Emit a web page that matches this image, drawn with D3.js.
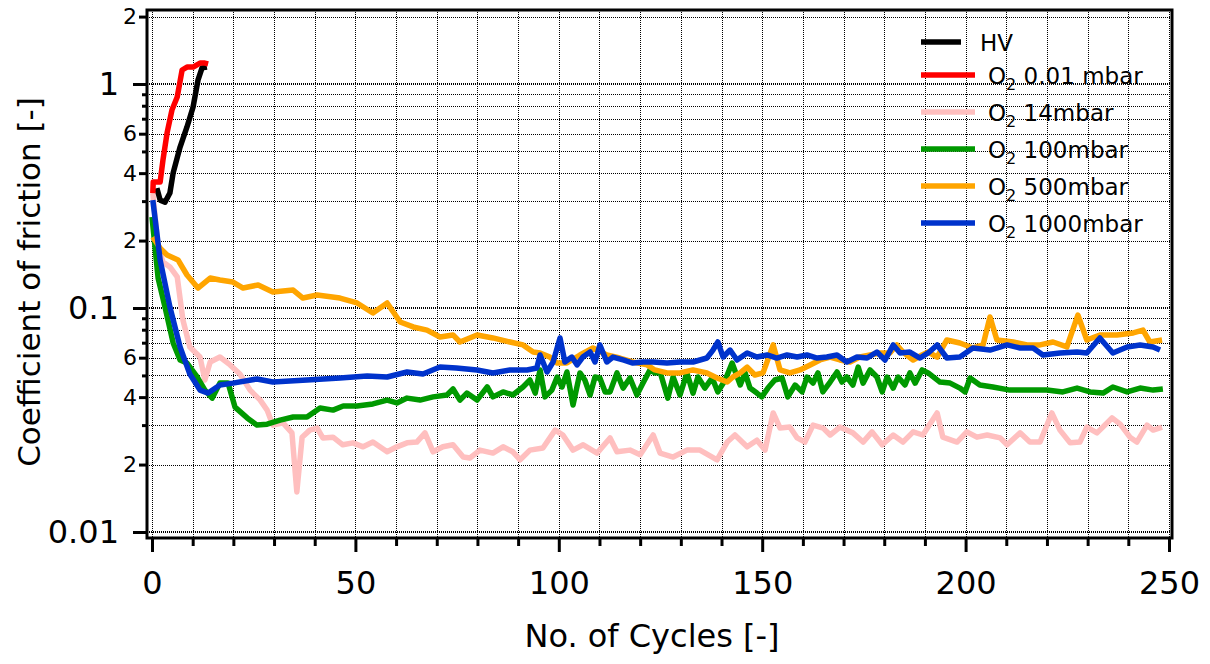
<!DOCTYPE html>
<html><head><meta charset="utf-8">
<script src="https://cdn.jsdelivr.net/npm/d3@7"></script>
<style>
body{margin:0;background:#fff;}
svg{display:block;font-family:"DejaVu Sans",sans-serif;}
</style>
</head><body>
<svg id="chart" width="1210" height="664"></svg>
<script>
// ---------------- data (cycle, coefficient of friction) ----------------
const hvData = [[1.2,0.343],[2.0,0.303],[3.2,0.297],[4.4,0.326],[5.2,0.401],[6.9,0.523],[8.6,0.643],[10.1,0.789],[11.3,1.04],[12.3,1.18],[13.5,1.19]];

const o2_001Data = [[0.2,0.326],[0.3,0.365],[2.0,0.365],[2.7,0.458],[3.7,0.604],[4.9,0.765],[6.2,0.875],[7.4,1.155],[8.6,1.19],[10.1,1.19],[11.8,1.24],[13.0,1.24],[13.8,1.23]];

const o2_14Data = [[0.2,0.326],[1.5,0.187],[2.7,0.1605],[4.4,0.1525],[6.2,0.1376],[7.6,0.0884],[9.3,0.067],[11.8,0.0604],[13.0,0.0477],[14.3,0.0574],[16.7,0.0604],[19.2,0.0557],[21.6,0.0507],[24.1,0.043],[26.6,0.0388],[28.3,0.035],[29.7,0.030],[32.2,0.0307],[34.4,0.0277],[35.6,0.0151],[36.9,0.0265],[38.8,0.0285],[40.6,0.0291],[42.0,0.0263],[44.5,0.0265],[46.9,0.0245],[49.4,0.025],[51.9,0.024],[54.3,0.0252],[57.8,0.0228],[60.2,0.024],[62.7,0.025],[65.1,0.0252],[67.1,0.0277],[69.1,0.0228],[71.5,0.024],[74.0,0.0245],[76.5,0.0216],[78.2,0.0214],[80.6,0.0232],[83.8,0.0225],[86.3,0.024],[88.7,0.0228],[90.5,0.021],[92.9,0.0232],[96.1,0.0237],[99.1,0.0285],[101.0,0.0271],[103.5,0.0232],[106.0,0.0245],[109.4,0.0225],[112.6,0.0263],[114.3,0.0228],[117.5,0.0232],[120.0,0.0221],[123.2,0.0271],[124.9,0.0225],[128.1,0.0216],[131.5,0.0232],[134.7,0.0232],[138.9,0.021],[141.4,0.0252],[143.3,0.0271],[146.3,0.024],[148.7,0.0257],[150.7,0.0232],[152.7,0.034],[154.4,0.0291],[156.8,0.0294],[158.6,0.0263],[160.5,0.0252],[162.5,0.030],[165.0,0.0291],[166.7,0.0271],[169.1,0.0294],[172.3,0.0277],[174.8,0.0252],[177.0,0.028],[179.5,0.0245],[182.2,0.0271],[184.6,0.0252],[187.1,0.028],[189.5,0.0271],[193.0,0.034],[194.4,0.0265],[197.9,0.0252],[200.3,0.028],[202.8,0.0265],[205.3,0.0271],[208.5,0.0263],[210.2,0.0245],[213.4,0.0277],[215.8,0.0252],[218.3,0.0252],[221.2,0.034],[223.2,0.0285],[225.7,0.025],[228.1,0.0252],[229.8,0.0294],[232.3,0.0277],[236.0,0.0323],[238.0,0.0303],[240.4,0.0265],[242.1,0.0252],[244.6,0.030],[246.1,0.0285],[248.3,0.0294]];

const o2_100Data = [[0,0.255],[1.5,0.1361],[3.2,0.101],[5.2,0.0698],[6.9,0.0586],[8.6,0.0568],[11.1,0.0492],[13.0,0.043],[14.8,0.0396],[16.7,0.0462],[18.7,0.0462],[20.4,0.0361],[23.4,0.0323],[25.8,0.030],[28.3,0.0303],[31.5,0.0316],[34.7,0.0326],[38.1,0.0326],[41.3,0.0358],[44.5,0.035],[47.0,0.0365],[50.4,0.0365],[54.3,0.0373],[57.8,0.0388],[60.2,0.0377],[62.7,0.0396],[65.9,0.0388],[69.1,0.0401],[72.5,0.0409],[74.0,0.0435],[75.7,0.0388],[77.4,0.0417],[79.9,0.0388],[82.4,0.0444],[83.8,0.0401],[86.3,0.0422],[88.7,0.0409],[91.2,0.0444],[92.9,0.0477],[94.2,0.0417],[95.4,0.0529],[96.6,0.0401],[98.3,0.043],[99.6,0.0492],[100.8,0.0444],[102.0,0.0518],[103.5,0.0369],[105.2,0.0513],[106.4,0.0477],[107.7,0.0409],[108.9,0.0492],[110.1,0.0487],[111.4,0.0422],[112.6,0.0422],[114.3,0.0513],[115.8,0.0439],[117.5,0.0487],[119.2,0.0409],[120.7,0.0462],[122.4,0.0529],[123.6,0.0513],[124.9,0.0518],[126.8,0.0396],[128.1,0.0492],[129.8,0.0409],[131.5,0.0513],[133.0,0.0417],[134.2,0.0492],[135.9,0.0439],[137.7,0.0487],[139.1,0.0422],[140.9,0.0477],[142.6,0.0568],[144.6,0.0453],[145.8,0.0513],[147.0,0.0439],[148.7,0.0417],[149.9,0.0401],[151.4,0.0439],[153.1,0.0477],[154.9,0.0487],[156.3,0.0401],[158.1,0.0453],[159.8,0.0422],[161.0,0.0492],[162.5,0.0462],[163.7,0.0513],[164.9,0.0422],[166.7,0.0467],[168.4,0.0518],[169.6,0.0467],[170.8,0.0492],[172.3,0.0453],[173.6,0.0545],[174.8,0.0462],[176.5,0.0529],[178.2,0.0492],[179.5,0.0422],[180.7,0.0492],[182.2,0.0439],[183.4,0.0492],[185.1,0.0453],[186.3,0.0513],[187.6,0.0462],[189.3,0.0529],[190.8,0.0513],[193.7,0.0467],[196.2,0.0462],[198.6,0.0439],[199.9,0.0422],[201.1,0.0487],[203.5,0.0453],[206.7,0.0444],[210.9,0.043],[215.1,0.043],[220.0,0.043],[223.9,0.0422],[227.4,0.0439],[230.6,0.0422],[233.8,0.0417],[236.2,0.0444],[239.7,0.0422],[242.9,0.0439],[246.1,0.043],[248.5,0.0435]];

const o2_500Data = [[0.2,0.2075],[2.0,0.185],[3.7,0.1724],[6.4,0.1638],[8.6,0.1404],[11.3,0.1228],[14.3,0.1361],[16.7,0.1334],[19.9,0.1306],[22.4,0.1228],[26.1,0.1267],[29.7,0.1179],[34.7,0.1203],[37.1,0.1108],[40.6,0.1143],[46.2,0.1108],[50.4,0.1053],[54.3,0.095],[57.8,0.1053],[61.0,0.0866],[64.2,0.0823],[67.6,0.0797],[70.8,0.0742],[74.0,0.0758],[75.7,0.0705],[79.9,0.0758],[83.8,0.0735],[88.0,0.0705],[91.2,0.0684],[93.7,0.0636],[95.4,0.063],[97.8,0.0604],[99.6,0.0568],[102.0,0.0568],[105.2,0.0617],[108.4,0.0663],[111.8,0.0617],[115.0,0.0598],[118.2,0.0574],[121.7,0.0557],[123.6,0.0529],[126.6,0.0513],[129.8,0.0513],[133.0,0.0529],[136.4,0.0513],[138.9,0.0487],[141.4,0.0467],[142.8,0.0492],[144.6,0.0513],[146.3,0.0545],[148.2,0.0502],[150.2,0.0513],[152.7,0.0684],[154.4,0.0529],[156.8,0.0513],[159.3,0.0529],[161.8,0.0557],[164.2,0.0586],[166.7,0.0604],[169.1,0.0586],[171.6,0.0574],[174.0,0.0604],[176.5,0.0617],[179.0,0.063],[181.4,0.063],[183.1,0.0684],[184.6,0.0636],[187.1,0.0586],[189.3,0.0617],[190.8,0.0636],[193.0,0.0604],[195.4,0.072],[198.6,0.0698],[201.8,0.0663],[204.3,0.0684],[206.0,0.0912],[207.7,0.072],[211.7,0.0705],[215.1,0.0684],[218.3,0.0684],[221.5,0.0705],[224.9,0.067],[227.6,0.093],[229.8,0.072],[233.0,0.0758],[237.2,0.0758],[241.2,0.0774],[243.6,0.0797],[245.3,0.0705],[248.3,0.072]];

const o2_1000Data = [[0.2,0.303],[2.0,0.1638],[4.4,0.101],[6.9,0.067],[9.3,0.0507],[11.8,0.043],[13.8,0.0417],[16.7,0.0453],[19.9,0.0462],[25.8,0.0482],[29.7,0.0467],[38.1,0.0477],[46.2,0.0487],[52.9,0.0497],[57.8,0.0492],[62.7,0.0518],[66.6,0.0507],[70.8,0.0545],[74.8,0.054],[79.9,0.0529],[83.8,0.0513],[88.0,0.0529],[92.2,0.0529],[94.6,0.054],[95.4,0.0617],[97.1,0.0518],[98.6,0.0574],[100.3,0.0735],[101.5,0.0574],[103.2,0.0604],[104.5,0.0557],[105.9,0.0604],[107.7,0.0636],[108.9,0.0574],[110.1,0.0684],[111.8,0.0574],[113.3,0.0604],[115.8,0.0586],[118.2,0.0568],[120.7,0.0574],[123.2,0.0574],[126.6,0.0568],[129.8,0.0574],[133.0,0.0574],[136.4,0.0598],[137.9,0.0649],[139.1,0.0705],[140.4,0.0604],[142.1,0.0649],[143.8,0.0586],[146.3,0.063],[148.7,0.0604],[151.2,0.0617],[153.6,0.0598],[156.1,0.0617],[158.6,0.0604],[161.0,0.0617],[163.5,0.0598],[165.9,0.0604],[168.4,0.0617],[170.8,0.0574],[173.3,0.0604],[175.8,0.0598],[178.2,0.0636],[180.2,0.0586],[182.2,0.0684],[183.9,0.063],[186.3,0.0636],[188.8,0.0598],[190.8,0.063],[193.0,0.0684],[195.4,0.0598],[198.6,0.0604],[201.8,0.0663],[206.0,0.0649],[210.2,0.0684],[213.4,0.0663],[216.6,0.0663],[219.0,0.0617],[223.2,0.063],[227.4,0.0636],[229.8,0.063],[233.0,0.0735],[236.2,0.063],[239.7,0.067],[242.9,0.0684],[246.1,0.067],[247.8,0.0649]];

const seriesData = [o2_14Data, o2_100Data, o2_500Data, o2_1000Data, hvData, o2_001Data];
const seriesColors = ["#ffbfbf", "#009900", "#ffa500", "#0033cc", "#000000", "#ff0000"];

const legendMain = ["HV", "O", "O", "O", "O", "O"];
const legendSub = ["", "2", "2", "2", "2", "2"];
const legendRest = ["", " 0.01 mbar", " 14mbar", " 100mbar", " 500mbar", " 1000mbar"];
const legendColors = ["#000000", "#ff0000", "#ffbfbf", "#009900", "#ffa500", "#0033cc"];

const xMajorTicks = [0, 50, 100, 150, 200, 250];
const xMinorTicks = d3.range(0, 251, 10).filter(v => v % 50 !== 0);
const yMajorTicks = [0.01, 0.1, 1];
const yLabeledMinor = [0.02, 0.04, 0.06, 0.2, 0.4, 0.6, 2];
const yMinorTicks = [0.03, 0.05, 0.07, 0.08, 0.09, 0.3, 0.5, 0.7, 0.8, 0.9];
const yGridValues = [0.01,0.02,0.03,0.04,0.05,0.06,0.07,0.08,0.09,0.1,0.2,0.3,0.4,0.5,0.6,0.7,0.8,0.9,1,2];
const xGridValues = d3.range(0, 251, 10);

// ---------------- layout ----------------
const L = 147, R = 1172, T = 10, B = 538;
const svg = d3.select("#chart");
const x = d3.scaleLinear().domain([-1.23, 250.74]).range([L, R]);
const y = d3.scaleLog().domain([0.0094, 2.14]).range([B, T]);

svg.append("defs").append("clipPath").attr("id", "clip")
  .append("rect").attr("x", L).attr("y", T).attr("width", R - L).attr("height", B - T);

// grid
const grid = svg.append("g").attr("shape-rendering", "crispEdges");
grid.selectAll("line.h").data(yGridValues).join("line")
  .attr("x1", L).attr("x2", R)
  .attr("y1", d => yMajorTicks.includes(d) ? Math.round(y(d)) : Math.round(y(d)) + 0.5)
  .attr("y2", d => yMajorTicks.includes(d) ? Math.round(y(d)) : Math.round(y(d)) + 0.5)
  .attr("stroke", "#000")
  .attr("stroke-width", d => yMajorTicks.includes(d) ? 2 : 1)
  .attr("stroke-dasharray", "1,1");
grid.selectAll("line.v").data(xGridValues).join("line")
  .attr("y1", T).attr("y2", B)
  .attr("x1", d => Math.round(x(d)) + 0.5).attr("x2", d => Math.round(x(d)) + 0.5)
  .attr("stroke", "#000").attr("stroke-width", 1)
  .attr("stroke-dasharray", "1,1");

// data lines
const line = d3.line().x(d => x(d[0])).y(d => y(d[1]));
const lines = svg.append("g").attr("clip-path", "url(#clip)");
seriesData.forEach((s, i) => {
  lines.append("path").datum(s)
    .attr("d", line).attr("fill", "none")
    .attr("stroke", seriesColors[i]).attr("stroke-width", 5.5)
    .attr("stroke-linejoin", "round").attr("stroke-linecap", "butt");
});

// frame
svg.append("rect").attr("x", L).attr("y", T).attr("width", R - L).attr("height", B - T)
  .attr("fill", "none").attr("stroke", "#000").attr("stroke-width", 3);

function styleAxis(g) {
  g.select(".domain").remove();
  g.selectAll(".tick line").attr("stroke", "#000").attr("stroke-width", 3);
  g.selectAll(".tick text").attr("fill", "#000").attr("font-family", "DejaVu Sans, sans-serif");
}

// x axis
svg.append("g").attr("transform", `translate(0,${B})`)
  .call(d3.axisBottom(x).tickValues(xMinorTicks).tickSize(8).tickFormat(""))
  .call(styleAxis);
svg.append("g").attr("transform", `translate(0,${B})`)
  .call(d3.axisBottom(x).tickValues(xMajorTicks).tickSize(14).tickPadding(19).tickFormat(d3.format("d")))
  .call(styleAxis)
  .selectAll(".tick text").attr("font-size", 32);

// y axis
svg.append("g").attr("transform", `translate(${L},0)`)
  .call(d3.axisLeft(y).tickValues(yMinorTicks).tickSize(5).tickFormat(""))
  .call(styleAxis);
svg.append("g").attr("transform", `translate(${L},0)`)
  .call(d3.axisLeft(y).tickValues(yLabeledMinor).tickSize(8).tickPadding(2)
    .tickFormat(d => String(Math.round(d / Math.pow(10, Math.floor(Math.log10(d) + 1e-9))))))
  .call(styleAxis)
  .selectAll(".tick text").attr("font-size", 22);
svg.append("g").attr("transform", `translate(${L},0)`)
  .call(d3.axisLeft(y).tickValues(yMajorTicks).tickSize(14).tickPadding(14)
    .tickFormat(d => d >= 1 ? "1" : String(d)))
  .call(styleAxis)
  .selectAll(".tick text").attr("font-size", 32);

// axis titles
svg.append("text").attr("transform", "translate(40,282) rotate(-90)")
  .attr("text-anchor", "middle").attr("font-size", 31).attr("fill", "#000")
  .text("Coefficient of friction [-]");
svg.append("text").attr("x", 652).attr("y", 647)
  .attr("text-anchor", "middle").attr("font-size", 32).attr("fill", "#000")
  .text("No. of Cycles [-]");

// legend
const legendY = [42, 75, 112, 149, 186, 223];
const lg = svg.append("g");
legendMain.forEach((m, i) => {
  const yy = legendY[i];
  lg.append("line").attr("x1", 921).attr("x2", i === 0 ? 961 : 975)
    .attr("y1", yy).attr("y2", yy)
    .attr("stroke", legendColors[i]).attr("stroke-width", 5.5);
  const t = lg.append("text").attr("x", i === 0 ? 980 : 988).attr("y", yy + 9)
    .attr("font-size", 23).attr("fill", "#000");
  t.append("tspan").text(m);
  if (legendSub[i]) {
    t.append("tspan").attr("font-size", 16).attr("dy", 6).text(legendSub[i]);
    t.append("tspan").attr("dy", -6).text(legendRest[i]);
  }
});
</script>
</body></html>
